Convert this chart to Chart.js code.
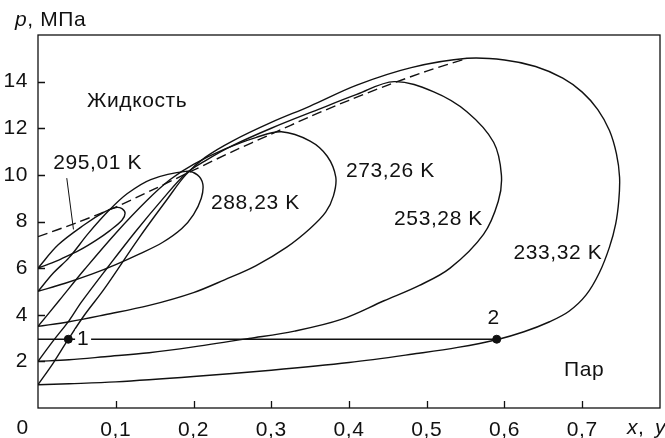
<!DOCTYPE html>
<html>
<head>
<meta charset="utf-8">
<script src="https://cdn.jsdelivr.net/npm/chart.js@4.4.1/dist/chart.umd.min.js"></script>
<style>
  body { margin: 0; background: #fff; }
</style>
</head>
<body>
<canvas id="phaseChart" width="665" height="438"></canvas>
<script>
// Фазовые диаграммы p - x, y при разных температурах
// каждая петля: кривая кипения от x = 0 до вершины, затем кривая конденсации обратно к x = 0
const loop233X = [0, 0.02, 0.039, 0.06, 0.085, 0.13, 0.165, 0.19, 0.215, 0.25, 0.3, 0.35, 0.41, 0.48, 0.552,
  0.6, 0.64, 0.675, 0.70, 0.72, 0.735, 0.744, 0.748, 0.747, 0.743, 0.735, 0.722, 0.705, 0.683, 0.658, 0.625, 0.59,
  0.54, 0.49, 0.4, 0.3, 0.2, 0.1, 0.04, 0];
const loop233P = [1.0, 1.95, 2.95, 4.0, 5.1, 7.3, 8.9, 10.0, 10.75, 11.45, 12.25, 12.95, 13.85, 14.6, 15.0,
  14.93, 14.65, 14.15, 13.55, 12.8, 11.9, 10.9, 9.9, 8.9, 7.9, 6.9, 5.8, 4.85, 4.15, 3.7, 3.27, 2.93,
  2.6, 2.35, 1.95, 1.62, 1.35, 1.12, 1.04, 1.0];

const loop253X = [0, 0.02, 0.04, 0.056, 0.09, 0.125, 0.16, 0.19, 0.215, 0.25, 0.3, 0.36, 0.41, 0.458,
  0.509, 0.552, 0.586, 0.596, 0.592, 0.573, 0.53, 0.49, 0.445, 0.39, 0.33, 0.271, 0.2, 0.143, 0.086, 0.04, 0];
const loop253P = [2.0, 2.9, 3.75, 4.55, 6.05, 7.55, 8.95, 10.05, 10.6, 11.25, 12.0, 12.8, 13.45, 14.0,
  13.56, 12.7, 11.4, 10.0, 8.87, 7.45, 6.0, 5.25, 4.6, 3.8, 3.3, 2.98, 2.62, 2.37, 2.2, 2.07, 2.0];

const loop273X = [0, 0.027, 0.06, 0.1, 0.14, 0.17, 0.2, 0.24, 0.28, 0.313,
  0.35, 0.372, 0.383, 0.38, 0.37, 0.35, 0.32, 0.28, 0.24, 0.2, 0.143, 0.086, 0.04, 0];
const loop273P = [3.5, 4.6, 5.95, 7.5, 8.9, 9.8, 10.45, 11.1, 11.6, 11.85,
  11.45, 10.8, 9.9, 9.1, 8.4, 7.7, 6.9, 6.1, 5.5, 4.95, 4.4, 4.0, 3.7, 3.5];

const loop288X = [0, 0.02, 0.04, 0.065, 0.092, 0.115, 0.145, 0.19,
  0.205, 0.212, 0.21, 0.2, 0.185, 0.16, 0.13, 0.1, 0.07, 0.035, 0];
const loop288P = [5.0, 5.8, 6.45, 7.5, 8.5, 9.2, 9.8, 10.15,
  10.0, 9.6, 9.0, 8.3, 7.7, 7.1, 6.6, 6.15, 5.75, 5.35, 5.0];

const loop295X = [0, 0.026, 0.06, 0.085, 0.1, 0.108, 0.112, 0.108, 0.092, 0.075, 0.054, 0.03, 0.012, 0];
const loop295P = [6.0, 7.0, 7.87, 8.4, 8.6, 8.55, 8.35, 8.05, 7.6, 7.2, 6.78, 6.4, 6.15, 6.0];

// критическая кривая (штриховая)
const critX = [0, 0.05, 0.1, 0.15, 0.2, 0.25, 0.3, 0.35, 0.4, 0.45, 0.5, 0.552];
const critP = [7.35, 7.95, 8.62, 9.4, 10.2, 11.0, 11.75, 12.5, 13.2, 13.85, 14.45, 15.0];

// нода 1-2 при 233,32 K
const tieX = [0, 0.59];
const tieP = [2.95, 2.95];
const dotX = [0.039, 0.59];
const dotP = [2.95, 2.95];

// выноска к подписи 295,01 K
const leaderX = [0.037, 0.0456];
const leaderP = [9.86, 7.66];

const xTicks = [0.1, 0.2, 0.3, 0.4, 0.5, 0.6, 0.7];
const yTicks = [2, 4, 6, 8, 10, 12, 14];

const FONT = '"Liberation Sans", Arial, sans-serif';
const FSIZE = 21;

function pts(xs, ps) {
  return xs.map((x, i) => ({ x: x, y: ps[i] }));
}

function curve(xs, ps, extra) {
  return Object.assign({
    data: pts(xs, ps),
    showLine: true,
    borderColor: '#111',
    borderWidth: 1.4,
    pointRadius: 0,
    tension: 0.35,
    fill: false
  }, extra || {});
}

const textLabels = [
  { t: 'Жидкость', x: 0.063, y: 13.18 },
  { t: '295,01 K', x: 0.0196, y: 10.49 },
  { t: '288,23 K', x: 0.2224, y: 8.78 },
  { t: '273,26 K', x: 0.396, y: 10.15 },
  { t: '253,28 K', x: 0.458, y: 8.1 },
  { t: '233,32 K', x: 0.6115, y: 6.65 },
  { t: 'Пар', x: 0.6765, y: 1.62 }
];

const decorPlugin = {
  id: 'decor',
  beforeDraw(chart) {
    chart.ctx.letterSpacing = '0.6px';
  },
  afterDraw(chart) {
    const ctx = chart.ctx;
    const a = chart.chartArea;
    const sx = chart.scales.x, sy = chart.scales.y;
    ctx.save();
    ctx.letterSpacing = '0.6px';
    ctx.strokeStyle = '#111';
    ctx.lineWidth = 1.3;
    ctx.strokeRect(a.left, a.top, a.right - a.left, a.bottom - a.top);
    // засечки внутрь
    ctx.beginPath();
    xTicks.forEach(v => {
      const px = Math.round(sx.getPixelForValue(v)) + 0.5;
      ctx.moveTo(px, a.bottom);
      ctx.lineTo(px, a.bottom - 7);
    });
    yTicks.forEach(v => {
      const py = Math.round(sy.getPixelForValue(v)) + 0.5;
      ctx.moveTo(a.left, py);
      ctx.lineTo(a.left + 7, py);
    });
    ctx.stroke();

    ctx.fillStyle = '#111';
    ctx.font = FSIZE + 'px ' + FONT;
    ctx.textBaseline = 'middle';
    ctx.textAlign = 'left';
    textLabels.forEach(l => {
      ctx.fillText(l.t, sx.getPixelForValue(l.x), sy.getPixelForValue(l.y));
    });

    // метки точек 1 и 2
    ctx.textAlign = 'center';
    const p1x = sx.getPixelForValue(0.058), p1y = sy.getPixelForValue(2.94);
    ctx.fillStyle = '#fff';
    ctx.fillRect(p1x - 8, p1y - 10, 16, 20);
    ctx.fillStyle = '#111';
    ctx.fillText('1', p1x, p1y);
    ctx.fillText('2', sx.getPixelForValue(0.586), sy.getPixelForValue(3.84));

    // подписи осей
    ctx.fillText('0', 22.7, 428);
    ctx.textAlign = 'left';
    ctx.font = 'italic ' + FSIZE + 'px ' + FONT;
    ctx.fillText('p', 15, 20);
    ctx.fillText('x', 627, 428);
    ctx.fillText('y', 655, 428);
    const pw = ctx.measureText('p').width;
    const xw = ctx.measureText('x').width;
    ctx.font = FSIZE + 'px ' + FONT;
    ctx.fillText(', МПа', 15 + pw, 20);
    ctx.fillText(',', 627 + xw, 428);
    ctx.restore();
  }
};

new Chart(document.getElementById('phaseChart'), {
  type: 'scatter',
  data: {
    datasets: [
      curve(loop233X, loop233P),
      curve(loop253X, loop253P),
      curve(loop273X, loop273P),
      curve(loop288X, loop288P),
      curve(loop295X, loop295P),
      curve(critX, critP, { borderDash: [10, 5], tension: 0.3 }),
      curve(tieX, tieP, { tension: 0 }),
      curve(leaderX, leaderP, { tension: 0, borderWidth: 1 }),
      {
        data: pts(dotX, dotP),
        showLine: false,
        pointRadius: 4,
        pointBackgroundColor: '#111',
        pointBorderColor: '#111'
      }
    ]
  },
  options: {
    responsive: false,
    animation: false,
    layout: { padding: { top: 35, right: 0, bottom: 0, left: 0 } },
    plugins: {
      legend: { display: false },
      tooltip: { enabled: false }
    },
    scales: {
      x: {
        type: 'linear',
        min: 0,
        max: 0.8,
        afterFit: s => { s.height = 30; s.paddingLeft = 0; s.paddingRight = 0; },
        grid: { display: false, drawTicks: false },
        border: { display: false },
        ticks: {
          stepSize: 0.1,
          autoSkip: false,
          maxRotation: 0,
          padding: 10,
          color: '#111',
          font: { family: FONT, size: FSIZE },
          callback: v => (v < 0.05 || v > 0.75) ? '' : v.toFixed(1).replace('.', ',')
        }
      },
      y: {
        type: 'linear',
        min: 0,
        max: 16,
        afterFit: s => { s.width = 38; s.paddingTop = 0; s.paddingBottom = 0; },
        grid: { display: false, drawTicks: false },
        border: { display: false },
        ticks: {
          stepSize: 2,
          autoSkip: false,
          padding: 10,
          color: '#111',
          font: { family: FONT, size: FSIZE },
          callback: v => (v === 0 || v === 16) ? '' : String(v)
        }
      }
    }
  },
  plugins: [decorPlugin]
});
</script>
</body>
</html>
